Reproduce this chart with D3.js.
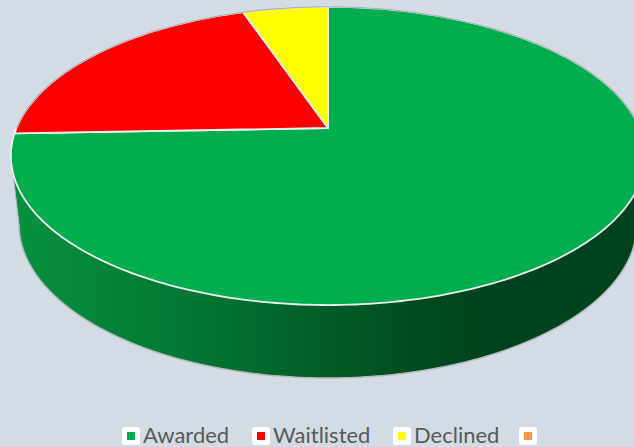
<!DOCTYPE html>
<html><head><meta charset="utf-8">
<script src="https://cdn.jsdelivr.net/npm/d3@7"></script>
<style>html,body{margin:0;padding:0;background:#d3dbe5;overflow:hidden}svg{display:block}</style>
</head><body><svg id="c" width="634" height="447"></svg>
<script>
const categories = ["Awarded","Waitlisted","Declined",""];
const values = [74.4,20.4,5.2,0];
const colors = ["#00ae4d","#ff0000","#ffff00","#f79646"];
const legendX = [122,252,393,519];

const svg = d3.select("#c");
const apexX=328, apexY=128, persp=-0.187, sy=120, sx=311.5;
const bottom={cx:328,cy:224,rx:309,ry:154};
function proj(a,r=1){
  const u=Math.sin(a)*r, v=-Math.cos(a)*r, w=1+persp*v;
  return [apexX+sx*u/w,(apexY+sy*v)/w];
}
const line=d3.line();
const pie=d3.pie().sort(null).value(d=>d)(values);
const defs=svg.append("defs");
const stops=[[0,"#07913f"],[0.25,"#037a33"],[0.509,"#015c27"],[0.655,"#014a1e"],[0.752,"#01431c"],[1,"#01431c"]];
const g=defs.append("linearGradient").attr("id","side").attr("gradientUnits","userSpaceOnUse")
  .attr("x1",15).attr("x2",634).attr("y1",0).attr("y2",0);
stops.forEach(s=>g.append("stop").attr("offset",s[0]).attr("stop-color",s[1]));

// side wall
const xs=d3.range(0,181).map(i=>i*Math.PI/180);
const topEdge=xs.map(t=>[328+317*Math.cos(t),156+148.5*Math.sin(t)]);
const botEdge=xs.map(t=>[bottom.cx+bottom.rx*Math.cos(t),bottom.cy+bottom.ry*Math.sin(t)]);
const wall=[...topEdge,...botEdge.slice().reverse()];
svg.append("path").attr("d",line(wall)+"Z").attr("fill","url(#side)");
svg.append("path").attr("d",line(botEdge)).attr("fill","none").attr("stroke","#b4b9be").attr("stroke-width",1.5);
svg.append("path").attr("d",line([[12,165],[bottom.cx-bottom.rx,bottom.cy]])).attr("stroke","#b4b9be").attr("fill","none");

// top face wedges
pie.filter(d=>d.value>0).forEach(d=>{
  const n=Math.max(2,Math.ceil((d.endAngle-d.startAngle)*180/Math.PI));
  const pts=d3.range(n+1).map(i=>proj(d.startAngle+(d.endAngle-d.startAngle)*i/n));
  svg.append("path").attr("d",line([[apexX,apexY],...pts])+"Z")
    .attr("fill",colors[d.index]).attr("stroke","#eceff1").attr("stroke-width",1.8).attr("stroke-linejoin","round");
});
// upper outline in grey
const back=d3.range(0,100).map(i=>proj(-Math.PI/2+i*Math.PI/99));
svg.append("path").attr("d",line(back)).attr("fill","none").attr("stroke","#a9b0b8").attr("stroke-width",1.2);

// legend
const lg=svg.append("g");
categories.forEach((c,i)=>{
  const x=legendX[i];
  lg.append("rect").attr("x",x).attr("y",427).attr("width",18).attr("height",18).attr("rx",3).attr("fill","#fff");
  lg.append("rect").attr("x",x+5).attr("y",432).attr("width",8).attr("height",8).attr("fill",colors[i]);
  lg.append("text").attr("x",x+21).attr("y",443).text(c)
    .attr("font-family","Lato, 'Open Sans', sans-serif").attr("font-size",22).attr("fill","#595959");
});
</script></body></html>
